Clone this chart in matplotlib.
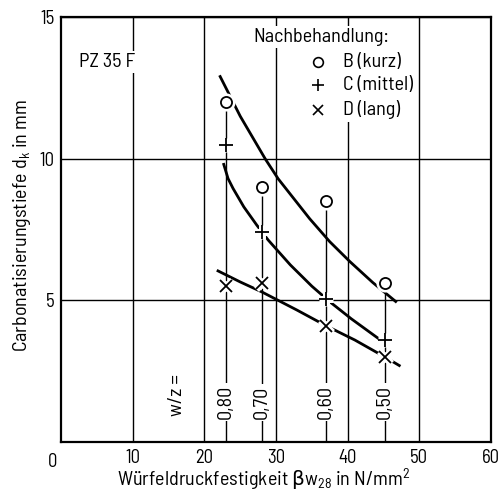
import matplotlib.pyplot as plt
from matplotlib.patches import Rectangle

# data
strength = [23.0, 28.0, 37.0, 45.2]           # Würfeldruckfestigkeit per w/z
wz_labels = ["0,80", "0,70", "0,60", "0,50"]
depth_B = [12.0, 9.0, 8.5, 5.6]               # kurz
depth_C = [10.5, 7.4, 5.05, 3.6]              # mittel
depth_D = [5.5, 5.6, 4.1, 3.0]                # lang

curve_B_x = [22.2, 25.0, 28.5, 30.3, 34.7, 37.5, 40.3, 43.5, 46.7]
curve_B_y = [12.9, 11.5, 9.99, 9.29, 7.88, 7.07, 6.37, 5.63, 4.96]
curve_C_x = [22.7, 23.3, 24.0, 25.5, 27.3, 28.9, 32.0, 35.0, 37.5, 40.5, 44.2]
curve_C_y = [9.8, 9.3, 8.95, 8.3, 7.66, 7.13, 6.25, 5.5, 4.95, 4.35, 3.67]
curve_D_x = [21.9, 25.0, 28.0, 32.9, 37.0, 41.0, 45.2, 47.2]
curve_D_y = [6.04, 5.65, 5.3, 4.66, 4.1, 3.6, 3.0, 2.7]

font = "Barlow Semi Condensed"
plt.rcParams["font.family"] = [font, "DejaVu Sans"]
plt.rcParams["mathtext.fontset"] = "custom"
plt.rcParams["mathtext.rm"] = font
plt.rcParams["mathtext.it"] = font
plt.rcParams["mathtext.sf"] = "DejaVu Sans"
plt.rcParams["mathtext.default"] = "rm"
fs = 13.5     # tick labels
ft = 14.5     # other text

fig = plt.figure(figsize=(5.01, 4.93), dpi=100)
ax = fig.add_axes([0.122, 0.1034, 0.858, 0.862])
ax.set_xlim(0, 60)
ax.set_ylim(0, 15)
ax.set_xticks([10, 20, 30, 40, 50, 60])
ax.set_yticks([5, 10, 15])
ax.tick_params(length=0, labelsize=fs, pad=5)
ax.grid(True, color="black", linewidth=1.0, zorder=0)
ax.set_axisbelow(True)
for s in ax.spines.values():
    s.set_linewidth(1.6)
ax.text(-1.2, -0.4, "0", fontsize=fs, ha="center", va="top")

# axis titles
ax.text(0.472, -0.089, r"Würfeldruckfestigkeit $\mathsf{\beta}$w$_{28}$ in N/mm$^2$",
        transform=ax.transAxes, fontsize=ft, ha="center", va="center")
ax.text(-0.091, 0.51, "Carbonatisierungstiefe d$_k$ in mm", transform=ax.transAxes,
        fontsize=ft, rotation=90, ha="center", va="center")

# vertical w/z lines with labels
ax.vlines(strength, 0, depth_B, color="black", linewidth=1.0, zorder=2)
wbox = dict(facecolor="white", edgecolor="none", pad=1.5)
for x, lab in zip(strength, wz_labels):
    ax.text(x, 1.4, lab, rotation=90, fontsize=ft, ha="center", va="center",
            bbox=wbox, zorder=3)
ax.text(16.2, 1.66, "w/z =", rotation=90, fontsize=ft, ha="center", va="center")

# curves
for cx, cy in [(curve_B_x, curve_B_y), (curve_C_x, curve_C_y), (curve_D_x, curve_D_y)]:
    ax.plot(cx, cy, color="black", linewidth=2.0, zorder=4)

# markers with white halo to break the lines
for ys, m, ms in [(depth_B, "o", 8), (depth_C, "+", 10), (depth_D, "x", 8)]:
    ax.plot(strength, ys, ls="none", marker=m, ms=ms, mec="white", mfc="white",
            mew=5, zorder=5)
    ax.plot(strength, ys, ls="none", marker=m, ms=ms, mec="black", mfc="white",
            mew=1.3, zorder=6)

# annotations, white ground breaks the grid lines like in the print
ax.add_patch(Rectangle((38.8, 11.3), 10.7, 2.6, facecolor="white", edgecolor="none", zorder=1))
ax.text(2.5, 13.4, "PZ 35 F", fontsize=ft, ha="left", va="center", bbox=wbox, zorder=3)
ax.text(26.8, 14.3, "Nachbehandlung:", fontsize=ft, ha="left", va="center",
        bbox=wbox, zorder=3)
leg_y = [13.41, 12.6, 11.72]
leg_txt = ["B (kurz)", "C (mittel)", "D (lang)"]
leg_m = [("o", 7), ("+", 9), ("x", 7)]
for y, t, (m, ms) in zip(leg_y, leg_txt, leg_m):
    ax.plot([35.8], [y], ls="none", marker=m, ms=ms, mec="black", mfc="white",
            mew=1.2, zorder=6)
    ax.text(39.3, y, t, fontsize=ft, ha="left", va="center", bbox=wbox, zorder=3)

fig.savefig("out.png", dpi=100)
